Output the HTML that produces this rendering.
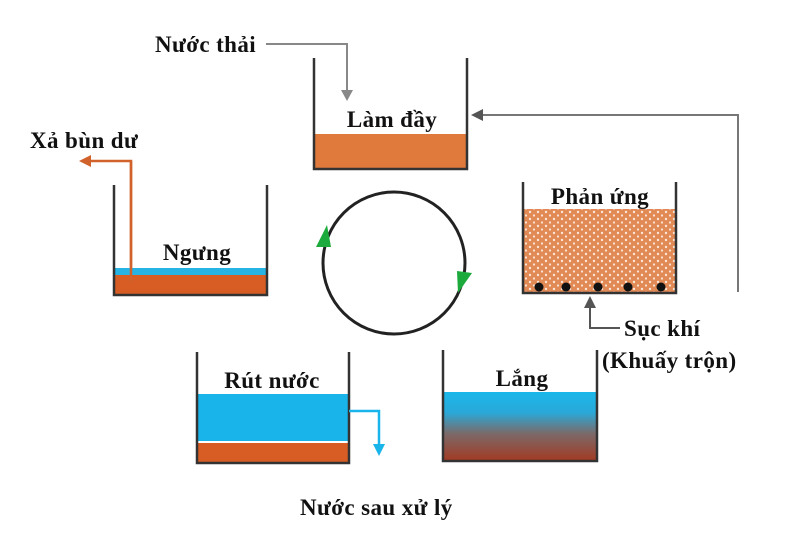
<!DOCTYPE html>
<html><head><meta charset="utf-8"><style>
html,body{margin:0;padding:0;background:#fff;}
svg{display:block;}
text{font-family:"Liberation Serif",serif;font-weight:bold;font-size:23px;letter-spacing:0.4px;fill:#111;}
</style></head><body>
<svg width="800" height="533" viewBox="0 0 800 533" xmlns="http://www.w3.org/2000/svg">
<defs>
<linearGradient id="lg" x1="0" y1="0" x2="0" y2="1">
<stop offset="0" stop-color="#1ab7ea"/><stop offset="0.3" stop-color="#2aa8d8"/><stop offset="0.6" stop-color="#7a6a6a"/><stop offset="1" stop-color="#a43a22"/>
</linearGradient>
<pattern id="dots" width="8" height="7" patternUnits="userSpaceOnUse">
<rect width="8" height="7" fill="#e28a55"/>
<circle cx="2" cy="2" r="1.2" fill="#fbe6d8"/><circle cx="6" cy="5.5" r="1.1" fill="#fbe6d8"/>
</pattern>
</defs>

<text x="155" y="52">Nước thải</text>
<polyline points="266,44 347,44 347,92" fill="none" stroke="#888" stroke-width="2"/>
<polygon points="341,90 353,90 347,101" fill="#888"/>

<rect x="314" y="134" width="153" height="35" fill="#e07a3c"/>
<polyline points="314,58 314,169 467,169 467,58" fill="none" stroke="#333" stroke-width="2.5"/>
<text x="392" y="127" text-anchor="middle">Làm đầy</text>

<polyline points="738,292 738,115 482,115" fill="none" stroke="#777" stroke-width="2"/>
<polygon points="471,115 483,109 483,121" fill="#555"/>

<text x="30" y="148">Xả bùn dư</text>
<polyline points="131,282 131,161 88,161" fill="none" stroke="#d2622c" stroke-width="2.5"/>
<polygon points="79,161 91,155 91,167" fill="#d2622c"/>

<rect x="114" y="268" width="153" height="7" fill="#27b3e3"/>
<rect x="114" y="275" width="153" height="20" fill="#d85d24"/>
<polyline points="114,185 114,295 267,295 267,185" fill="none" stroke="#333" stroke-width="2.5"/>
<polyline points="131,282 131,161" fill="none" stroke="#d2622c" stroke-width="2.5"/>
<text x="197" y="260" text-anchor="middle">Ngưng</text>

<circle cx="394" cy="263" r="71" fill="none" stroke="#222" stroke-width="3"/>
<polygon points="316,247 331,247 327,225" fill="#1daa3c"/>
<polygon points="457,271 472,273 458,293" fill="#1daa3c"/>

<rect x="523" y="209" width="153" height="84" fill="url(#dots)"/>
<g fill="#111">
<circle cx="539" cy="287" r="4.5"/><circle cx="566" cy="287" r="4.5"/><circle cx="598" cy="287" r="4.5"/><circle cx="628" cy="287" r="4.5"/><circle cx="661" cy="287" r="4.5"/>
</g>
<polyline points="523,182 523,293 676,293 676,182" fill="none" stroke="#333" stroke-width="2.5"/>
<text x="600" y="204" text-anchor="middle">Phản ứng</text>

<polyline points="590,306 590,328 620,328" fill="none" stroke="#555" stroke-width="2"/>
<polygon points="584,308 596,308 590,296" fill="#555"/>
<text x="624" y="336">Sục khí</text>
<text x="602" y="368">(Khuấy trộn)</text>

<rect x="197" y="394" width="152" height="47" fill="#18b4ea"/>
<rect x="197" y="443" width="152" height="20" fill="#d85d24"/>
<polyline points="197,352 197,463 349,463 349,352" fill="none" stroke="#333" stroke-width="2.5"/>
<text x="272" y="388" text-anchor="middle">Rút nước</text>
<polyline points="349,411 379,411 379,446" fill="none" stroke="#18b4ea" stroke-width="2.5"/>
<polygon points="373,444 385,444 379,456" fill="#18b4ea"/>
<text x="300" y="515">Nước sau xử lý</text>

<rect x="443" y="392" width="154" height="69" fill="url(#lg)"/>
<polyline points="443,350 443,461 597,461 597,350" fill="none" stroke="#333" stroke-width="2.5"/>
<text x="522" y="386" text-anchor="middle">Lắng</text>
</svg>
</body></html>
